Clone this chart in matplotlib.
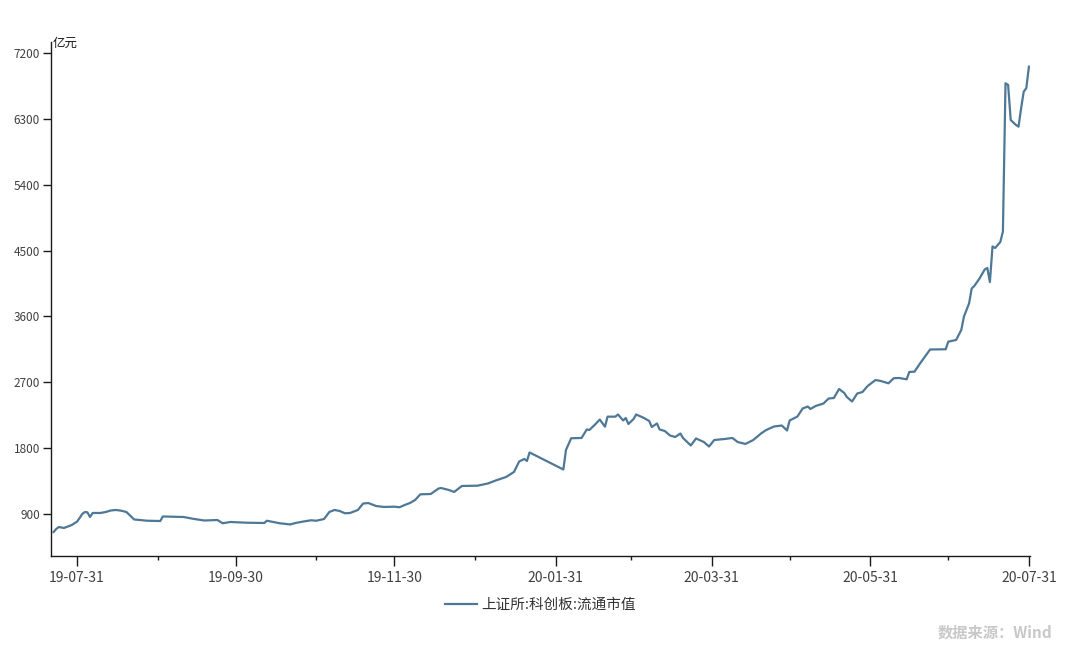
import matplotlib
matplotlib.use("Agg")
import matplotlib.pyplot as plt
import matplotlib.dates as mdates
import pandas as pd

plt.rcParams['font.family'] = ['Noto Sans CJK SC', 'DejaVu Sans']

# ---- data ----
dates = [
    '2019-07-22', '2019-07-23', '2019-07-24', '2019-07-26', '2019-07-29', '2019-07-31',
    '2019-08-01', '2019-08-02', '2019-08-03', '2019-08-04', '2019-08-05', '2019-08-06',
    '2019-08-09', '2019-08-11', '2019-08-13', '2019-08-15', '2019-08-17', '2019-08-19',
    '2019-08-22', '2019-08-24', '2019-08-27', '2019-09-01', '2019-09-02', '2019-09-10',
    '2019-09-14', '2019-09-18', '2019-09-23', '2019-09-25', '2019-09-28', '2019-10-04',
    '2019-10-11', '2019-10-12', '2019-10-17', '2019-10-21', '2019-10-23', '2019-10-26',
    '2019-10-29', '2019-10-31', '2019-11-03', '2019-11-05', '2019-11-07', '2019-11-09',
    '2019-11-11', '2019-11-13', '2019-11-16', '2019-11-18', '2019-11-20', '2019-11-23',
    '2019-11-26', '2019-11-30', '2019-12-02', '2019-12-04', '2019-12-06', '2019-12-08',
    '2019-12-10', '2019-12-14', '2019-12-17', '2019-12-18', '2019-12-21', '2019-12-23',
    '2019-12-25', '2019-12-26', '2020-01-01', '2020-01-05', '2020-01-08', '2020-01-12',
    '2020-01-15', '2020-01-17', '2020-01-19', '2020-01-20', '2020-01-21', '2020-02-03',
    '2020-02-04', '2020-02-06', '2020-02-10', '2020-02-12', '2020-02-13', '2020-02-15',
    '2020-02-17', '2020-02-19', '2020-02-20', '2020-02-23', '2020-02-24', '2020-02-26',
    '2020-02-27', '2020-02-28', '2020-03-01', '2020-03-02', '2020-03-05', '2020-03-07',
    '2020-03-08', '2020-03-10', '2020-03-11', '2020-03-13', '2020-03-15', '2020-03-17',
    '2020-03-19', '2020-03-20', '2020-03-23', '2020-03-25', '2020-03-28', '2020-03-30',
    '2020-04-01', '2020-04-05', '2020-04-08', '2020-04-10', '2020-04-13', '2020-04-16',
    '2020-04-19', '2020-04-21', '2020-04-24', '2020-04-27', '2020-04-29', '2020-04-30',
    '2020-05-03', '2020-05-05', '2020-05-07', '2020-05-08', '2020-05-10', '2020-05-13',
    '2020-05-15', '2020-05-17', '2020-05-19', '2020-05-21', '2020-05-22', '2020-05-24',
    '2020-05-26', '2020-05-28', '2020-05-30', '2020-06-02', '2020-06-04', '2020-06-07',
    '2020-06-09', '2020-06-11', '2020-06-14', '2020-06-15', '2020-06-17', '2020-06-19',
    '2020-06-21', '2020-06-23', '2020-06-29', '2020-06-30', '2020-07-03', '2020-07-05',
    '2020-07-06', '2020-07-08', '2020-07-09', '2020-07-10', '2020-07-12', '2020-07-14',
    '2020-07-15', '2020-07-16', '2020-07-17', '2020-07-18', '2020-07-20', '2020-07-21',
    '2020-07-22', '2020-07-23', '2020-07-24', '2020-07-26', '2020-07-27', '2020-07-28',
    '2020-07-29', '2020-07-30', '2020-07-31',
]
float_cap = [
    654, 695, 722, 709, 750, 795,
    845, 900, 927, 923, 859, 914,
    914, 927, 948, 955, 945, 927,
    825, 818, 808, 804, 866, 859,
    832, 811, 818, 773, 791, 781,
    777, 808, 773, 757, 777, 797,
    814, 808, 832, 927, 955, 941,
    910, 914, 955, 1043, 1050, 1009,
    996, 1000, 992, 1023, 1050, 1091,
    1169, 1173, 1248, 1255, 1228, 1201,
    1255, 1283, 1287, 1317, 1358, 1406,
    1474, 1617, 1652, 1624, 1741, 1508,
    1775, 1935, 1939, 2055, 2048, 2116,
    2191, 2093, 2230, 2230, 2260, 2178,
    2212, 2130, 2198, 2260, 2212, 2171,
    2089, 2137, 2055, 2034, 1973, 1952,
    2000, 1939, 1836, 1932, 1884, 1822,
    1911, 1925, 1939, 1884, 1857, 1911,
    2000, 2048, 2096, 2109, 2041, 2178,
    2232, 2342, 2369, 2335, 2376, 2410,
    2478, 2485, 2608, 2554, 2499, 2437,
    2547, 2567, 2649, 2731, 2718, 2686,
    2755, 2759, 2741, 2841, 2845, 2950,
    3050, 3148, 3151, 3255, 3278, 3415,
    3596, 3779, 3982, 4016, 4118, 4241,
    4262, 4070, 4556, 4535, 4617, 4760,
    6786, 6763, 6284, 6217, 6193, 6444,
    6671, 6720, 7013,
]
series_name = '上证所:科创板:流通市值'
unit_label = '亿元'
source_text = '数据来源：Wind'
major_ticks = ['2019-07-31', '2019-09-30', '2019-11-30', '2020-01-31',
               '2020-03-31', '2020-05-31', '2020-07-31']
minor_ticks = ['2019-08-31', '2019-10-31', '2019-12-31', '2020-02-29',
               '2020-04-30', '2020-06-30']
y_ticks = [900, 1800, 2700, 3600, 4500, 5400, 6300, 7200]

# ---- figure ----
fig = plt.figure(figsize=(10.8, 6.46), dpi=100)
ax = fig.add_axes([51 / 1080, 1 - 556 / 646, (1030 - 51) / 1080, (556 - 42) / 646])

x = pd.to_datetime(dates)
line_color = '#4f7896'
ax.plot(x, float_cap, color=line_color, lw=1.6, label=series_name)

ax.set_ylim(326, 7350)
ax.set_xlim(pd.Timestamp('2019-07-21'), pd.Timestamp('2020-07-31 10:00'))

ax.set_yticks(y_ticks)
ax.set_yticklabels([str(v) for v in y_ticks])
ax.set_xticks(pd.to_datetime(major_ticks))
ax.set_xticks(pd.to_datetime(minor_ticks), minor=True)
ax.xaxis.set_major_formatter(mdates.DateFormatter('%y-%m-%d'))

for s in ['top', 'right']:
    ax.spines[s].set_visible(False)
for s in ['left', 'bottom']:
    ax.spines[s].set_color('#1a1a1a')
    ax.spines[s].set_linewidth(1.0)

ax.tick_params(axis='y', length=6, width=1, color='#1a1a1a', labelsize=8.5,
               labelcolor='#404040', pad=2)
ax.tick_params(axis='x', which='major', length=7, width=1, color='#1a1a1a',
               labelsize=10, labelcolor='#404040', pad=4)
ax.tick_params(axis='x', which='minor', length=3, width=1, color='#1a1a1a')

fig.text(53 / 1080, 1 - 37 / 646, unit_label, fontsize=9, color='#1a1a1a',
         ha='left', va='top')

fig.legend(loc='center', bbox_to_anchor=(0.5, 1 - 605 / 646), frameon=False,
           fontsize=10.5, handlelength=2.2, handletextpad=0.3,
           labelcolor='#333333')

fig.text(1052 / 1080, 1 - 633 / 646, source_text, fontsize=11, color='#c8c8c8',
         fontweight='bold', ha='right', va='center')

fig.savefig('out.png', dpi=100)
